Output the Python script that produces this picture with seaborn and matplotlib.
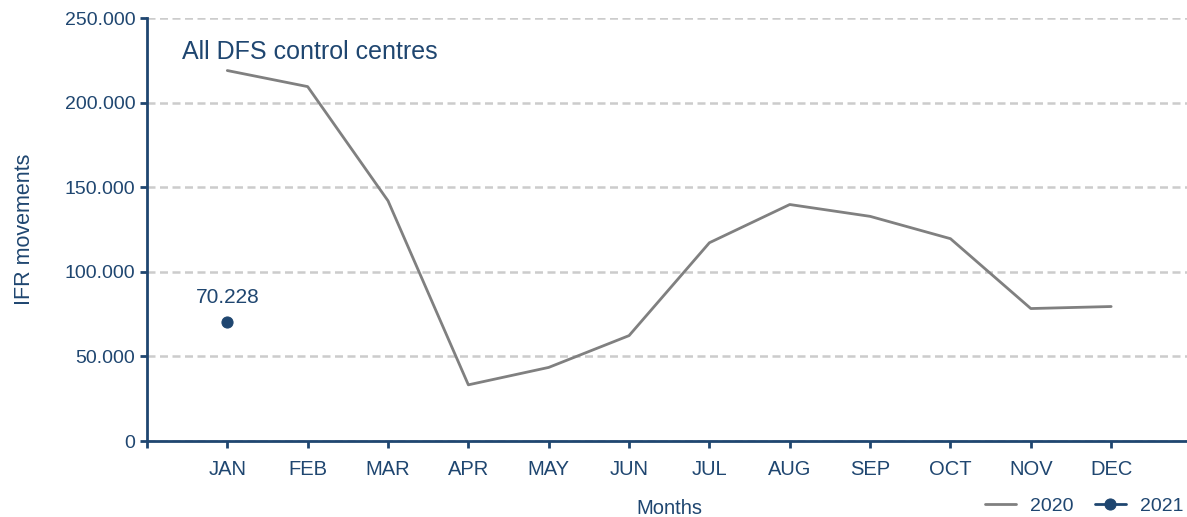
import matplotlib
matplotlib.use("Agg")
import matplotlib.pyplot as plt
import matplotlib.ticker as mticker
import seaborn as sns
import pandas as pd

months = ["JAN", "FEB", "MAR", "APR", "MAY", "JUN", "JUL", "AUG", "SEP", "OCT", "NOV", "DEC"]
values_2020 = [219000, 209500, 142000, 33200, 43500, 62300, 117200, 139800, 132800, 119600, 78300, 79500]
months_2021 = ["JAN"]
values_2021 = [70228]

NAVY = "#1f4670"
GREY = "#808080"

sns.set_theme(style="white")
plt.rcParams["font.family"] = ["Liberation Sans", "DejaVu Sans"]

df20 = pd.DataFrame({"x": [months.index(m) for m in months], "y": values_2020})
df21 = pd.DataFrame({"x": [months.index(m) for m in months_2021], "y": values_2021})

fig = plt.figure(figsize=(11.87, 5.17), dpi=100)
ax = fig.add_axes([0.1238, 0.147, 0.88, 0.818])

sns.lineplot(data=df20, x="x", y="y", ax=ax, color=GREY, linewidth=2, label="2020")
sns.lineplot(data=df21, x="x", y="y", ax=ax, color=NAVY, linewidth=2, marker="o",
             markersize=8, markeredgecolor=NAVY, label="2021")

for xi, yi in zip(df21["x"], df21["y"]):
    ax.text(xi, yi + 9000, f"{yi:,}".replace(",", "."), ha="center", va="bottom",
            fontsize=15, color=NAVY)

ax.set_xlim(-1, 12)
ax.set_ylim(0, 250000)
ax.set_xticks([-1] + list(range(len(months))))
ax.set_xticklabels([""] + months)
ax.set_yticks(range(0, 250001, 50000))
ax.yaxis.set_major_formatter(mticker.FuncFormatter(lambda v, p: f"{int(v):,}".replace(",", ".")))

ax.grid(axis="y", color="#cccccc", linestyle=(0, (3.2, 1.8)), linewidth=1.8)
ax.set_axisbelow(True)
for s in ["top", "right"]:
    ax.spines[s].set_visible(False)
for s in ["left", "bottom"]:
    ax.spines[s].set_color(NAVY)
    ax.spines[s].set_linewidth(2)
ax.tick_params(axis="both", colors=NAVY, labelcolor=NAVY, labelsize=14, direction="out",
               length=5, width=2, bottom=True, left=True)
ax.tick_params(axis="x", labelsize=14.5, pad=9)

ax.set_xlabel("Months", fontsize=14.5, color=NAVY, labelpad=14)
ax.set_ylabel("IFR movements", fontsize=15.5, color=NAVY, labelpad=21)

ax.text(-0.57, 230000, "All DFS control centres", fontsize=18, color=NAVY, ha="left", va="center")

leg = ax.legend(loc="center right", bbox_to_anchor=(0.992, -0.154), ncol=2, frameon=False,
                fontsize=14, handlelength=1.6, columnspacing=1.1, handletextpad=0.7,
                borderaxespad=0, borderpad=0)
for t in leg.get_texts():
    t.set_color(NAVY)

fig.savefig("out.png", dpi=100)
